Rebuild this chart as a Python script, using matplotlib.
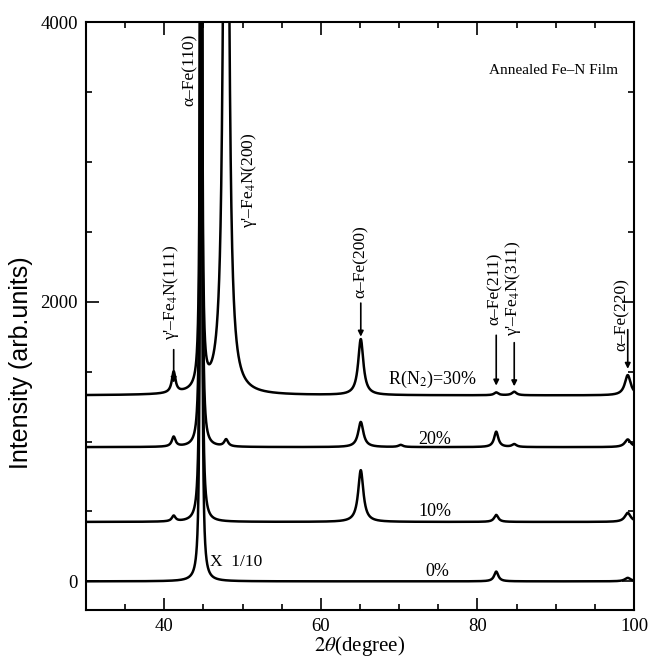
import numpy as np
import matplotlib
matplotlib.use("Agg")
import matplotlib.pyplot as plt
from matplotlib.ticker import MultipleLocator

plt.rcParams["font.family"] = ["Liberation Serif", "DejaVu Serif"]
plt.rcParams["mathtext.fontset"] = "stix"

# --- peak list (2theta, degrees) ---
peak_pos = [41.2, 44.7, 47.9, 65.1, 70.2, 82.4, 84.7, 99.2]
peak_hwhm = [0.28, 0.08, 0.30, 0.40, 0.35, 0.32, 0.35, 0.45]

# heights above baseline for each N2 ratio (arb. units)
samples = ["30%", "20%", "10%", "0%"]
baselines = [1330, 960, 425, 0]
h30 = [150, 12000, 8000, 400, 0, 20, 25, 145]
h20 = [70, 12000, 50, 180, 15, 110, 20, 55]
h10 = [40, 12000, 0, 370, 0, 50, 0, 65]
h0 = [0, 12000, 0, 0, 0, 70, 0, 25]
heights = [h30, h20, h10, h0]

# sample labels (x, y in data units)
sample_labels = ["R(N$_2$)=30%", "20%", "10%", "0%"]
sample_label_x = [68.6, 74.5, 74.6, 74.9]
sample_label_y = [1443, 1014, 500, 71]

tt = np.linspace(30, 100, 4001)


def pattern(base, hs):
    y = np.full_like(tt, float(base))
    for p, h, w in zip(peak_pos, hs, peak_hwhm):
        y += h * w ** 2 / ((tt - p) ** 2 + w ** 2)
    return y


fig = plt.figure(figsize=(6.5, 6.58), dpi=100)
ax = fig.add_axes([0.1323, 0.0729, 0.8431, 0.8936])

for base, hs in zip(baselines, heights):
    ax.plot(tt, pattern(base, hs), color="black", lw=1.8)

ax.set_xlim(30, 100)
ax.set_ylim(-205, 4000)

# ticks
ax.xaxis.set_major_locator(MultipleLocator(20))
ax.xaxis.set_minor_locator(MultipleLocator(5))
ax.yaxis.set_major_locator(MultipleLocator(2000))
ax.yaxis.set_minor_locator(MultipleLocator(500))
ax.tick_params(which="both", direction="in", top=True, right=True, width=1.2)
ax.tick_params(which="major", length=9, labelsize=13.5, pad=6)
ax.tick_params(which="minor", length=4)
for s in ax.spines.values():
    s.set_linewidth(1.5)

ax.set_xlabel(r"$\mathit{2\theta}$(degree)", fontsize=15, labelpad=-1)
ax.set_ylabel("Intensity (arb.units)", fontsize=18,
              family=["Liberation Sans Narrow", "Liberation Sans"])
ax.yaxis.set_label_coords(-0.097, 0.42)

# peak labels
rot_kw = dict(rotation=90, ha="center", va="center", fontsize=12.5)
ax.text(43.2, 3657, "α–Fe(110)", **rot_kw)
ax.text(50.85, 2871, "γ'–Fe$_4$N(200)", **rot_kw)
ax.text(65.1, 2290, "α–Fe(200)", **rot_kw)
ax.text(40.8, 2070, "γ'–Fe$_4$N(111)", **rot_kw)
ax.text(82.2, 2093, "α–Fe(211)", **rot_kw)
ax.text(84.6, 2093, "γ'–Fe$_4$N(311)", **rot_kw)
ax.text(98.4, 1907, "α–Fe(220)", **rot_kw)

arrow_kw = dict(arrowstyle="-|>", color="black", lw=1.2, mutation_scale=8,
                shrinkA=0, shrinkB=0)
ax.annotate("", xy=(41.2, 1420), xytext=(41.2, 1657), arrowprops=arrow_kw)
ax.annotate("", xy=(65.1, 1750), xytext=(65.1, 1990), arrowprops=arrow_kw)
ax.annotate("", xy=(82.4, 1400), xytext=(82.4, 1760), arrowprops=arrow_kw)
ax.annotate("", xy=(84.7, 1395), xytext=(84.7, 1707), arrowprops=arrow_kw)
ax.annotate("", xy=(99.2, 1520), xytext=(99.2, 1800), arrowprops=arrow_kw)

ax.text(81.5, 3657, "Annealed Fe–N Film", fontsize=11, va="center")
for lab, lx, ly in zip(sample_labels, sample_label_x, sample_label_y):
    ha = "left" if lab.startswith("R") else "center"
    ax.text(lx, ly, lab, fontsize=13, ha=ha, va="center")
ax.text(45.8, 136, "X  1/10", fontsize=12.5, va="center")

fig.savefig("out.png", dpi=100)
